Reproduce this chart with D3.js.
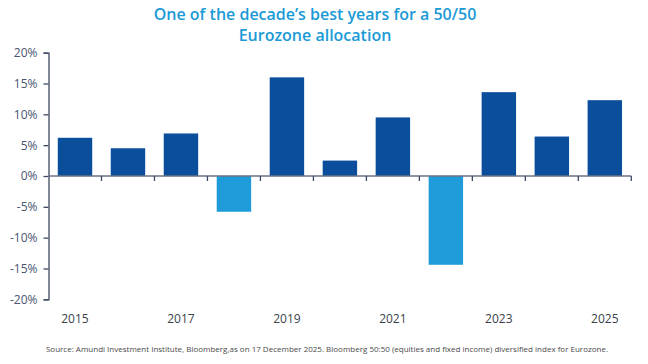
<!DOCTYPE html>
<html>
<head>
<meta charset="utf-8">
<script src="https://cdn.jsdelivr.net/npm/d3@7"></script>
<style>
  body { margin: 0; background: #ffffff; }
  svg { display: block; }
</style>
</head>
<body>
<script>
// chart data
var years = ["2015", "2016", "2017", "2018", "2019", "2020", "2021", "2022", "2023", "2024", "2025"];
var returns = [6.2, 4.5, 6.9, -5.8, 16.0, 2.5, 9.5, -14.4, 13.6, 6.4, 12.3];
var yTicks = [-20, -15, -10, -5, 0, 5, 10, 15, 20];
var xLabels = ["2015", "2017", "2019", "2021", "2023", "2025"];
var titleLines = ["One of the decade\u2019s best years for a 50/50", "Eurozone allocation"];
var source = "Source: Amundi Investment Institute, Bloomberg,as  on 17 December 2025. Bloomberg 50:50  (equities and fixed income)  diversified  index for Eurozone.";

var W = 648, H = 364;
var plotLeft = 48.5, plotRight = 631.3, plotTop = 52.7, plotBottom = 299.3;

var svg = d3.select("body").append("svg")
  .attr("width", W)
  .attr("height", H);

var x = d3.scaleBand()
  .domain(years)
  .range([plotLeft, plotRight])
  .paddingInner(0.35)
  .paddingOuter(0.175);

var y = d3.scaleLinear()
  .domain([-20, 20])
  .range([plotBottom, plotTop]);

//title
svg.selectAll("text.title").data(titleLines).enter().append("text")
  .attr("class", "title")
  .attr("x", 315)
  .attr("y", function(d, i){ return 20 + i*20.5; })
  .attr("text-anchor", "middle")
  .attr("font-family", "'Open Sans', sans-serif")
  .attr("font-weight", 600)
  .attr("font-size", "16px")
  .attr("fill", "#1b9ad6")
  .text(function(d){ return d; });

//bars
svg.selectAll("rect").data(returns).enter().append("rect")
  .attr("x", function(d, i){ return x(years[i]); })
  .attr("width", x.bandwidth())
  .attr("y", function(d){ return d >= 0 ? y(d) : y(0); })
  .attr("height", function(d){ return Math.abs(y(d) - y(0)); })
  .attr("fill", function(d){ return d >= 0 ? "#0b4f9c" : "#1e9bd8"; });

//y axis
var yAxis = svg.append("g")
  .attr("transform", "translate(" + plotLeft + ",0)")
  .call(d3.axisLeft(y).tickValues(yTicks).tickSize(5).tickPadding(6)
    .tickFormat(function(d){ return d + "%"; }));
yAxis.select(".domain").attr("stroke", "#3e4a63").attr("stroke-width", 1.3);
yAxis.selectAll(".tick line").attr("stroke", "#3e4a63").attr("stroke-width", 1.3);
yAxis.selectAll("text")
  .attr("font-family", "'Open Sans', sans-serif")
  .attr("font-size", "12px")
  .attr("fill", "#4a5470");

//x axis line at zero
var zero = y(0);
svg.append("line")
  .attr("x1", plotLeft).attr("x2", plotRight)
  .attr("y1", zero).attr("y2", zero)
  .attr("stroke", "#6b7385")
  .attr("stroke-width", 1.3);

svg.selectAll("line.xtick").data(years).enter().append("line")
  .attr("class", "xtick")
  .attr("x1", function(d){ return x(d) + x.bandwidth()/2 + x.step()/2; })
  .attr("x2", function(d){ return x(d) + x.bandwidth()/2 + x.step()/2; })
  .attr("y1", zero)
  .attr("y2", zero + 5)
  .attr("stroke", "#3e4a63")
  .attr("stroke-width", 1.3);

//year labels
svg.selectAll("text.xlab").data(xLabels).enter().append("text")
  .attr("class", "xlab")
  .attr("x", function(d){ return x(d) + x.bandwidth()/2; })
  .attr("y", 323)
  .attr("text-anchor", "middle")
  .attr("font-family", "'Open Sans', sans-serif")
  .attr("font-size", "12px")
  .attr("fill", "#3a3f4a")
  .text(function(d){ return d; });

//source note
svg.append("text")
  .attr("x", 327)
  .attr("y", 352)
  .attr("text-anchor", "middle")
  .attr("font-family", "'Open Sans', sans-serif")
  .attr("font-size", "8px")
  .attr("fill", "#4a4a4a")
  .text(source);
</script>
</body>
</html>
